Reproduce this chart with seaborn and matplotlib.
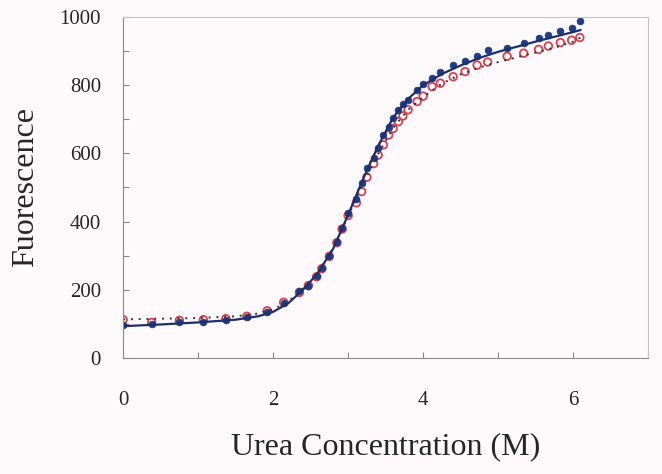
import numpy as np
import pandas as pd
import seaborn as sns
import matplotlib.pyplot as plt
from matplotlib.ticker import MultipleLocator

# urea titration
urea = [0, 0.38, 0.75, 1.07, 1.37, 1.65, 1.92, 2.14, 2.35, 2.47, 2.58, 2.65, 2.75, 2.85,
        2.92, 3.0, 3.11, 3.18, 3.25, 3.34, 3.4, 3.47, 3.54, 3.6, 3.67, 3.73, 3.8, 3.92,
        4.0, 4.12, 4.23, 4.4, 4.56, 4.72, 4.86, 5.12, 5.34, 5.54, 5.67, 5.83, 5.98, 6.09]
fl_blue = [97, 100, 104, 106, 112, 120, 135, 160, 195, 212, 240, 265, 300, 340,
           380, 424, 465, 512, 556, 586, 615, 654, 678, 705, 728, 745, 757, 786,
           805, 822, 840, 859, 872, 886, 903, 910, 924, 938, 947, 958, 968, 988]
fl_red = [112, 104, 110, 112, 115, 122, 138, 163, 192, 212, 238, 262, 298, 338,
          378, 418, 455, 488, 530, 570, 595, 625, 654, 673, 693, 710, 728, 752,
          768, 796, 806, 825, 840, 859, 868, 885, 894, 905, 915, 925, 932, 940]

# fitted curves
fit_x = [0, 0.5, 1.0, 1.5, 1.8, 2.0, 2.2, 2.4, 2.6, 2.8, 3.0, 3.2, 3.4, 3.6, 3.8,
         4.0, 4.25, 4.5, 4.75, 5.0, 5.25, 5.5, 5.75, 6.0, 6.1]
fit_blue = [93, 98, 104, 112, 122, 135, 160, 200, 250, 320, 420, 525, 622, 705, 760,
            800, 833, 858, 880, 898, 913, 928, 942, 956, 962]
fit_red = [113, 115, 117, 122, 130, 142, 165, 203, 252, 322, 415, 512, 598, 675, 728,
           765, 805, 832, 852, 868, 882, 896, 910, 928, 940]

pts = pd.DataFrame({'urea': urea, 'blue': fl_blue, 'red': fl_red})
fit = pd.DataFrame({'urea': fit_x, 'blue': fit_blue, 'red': fit_red})

sns.set_style('ticks')
plt.rcParams['font.family'] = ['Liberation Serif', 'DejaVu Serif']
bg = '#fefafc'

fig = plt.figure(figsize=(6.62, 4.74), dpi=100, facecolor=bg)
ax = fig.add_axes([0.186, 0.245, 0.793, 0.719])
ax.set_facecolor(bg)

sns.lineplot(data=fit, x='urea', y='red', ax=ax, color='#333333', linestyle=(0, (1, 3)),
             linewidth=1.4)
sns.lineplot(data=fit, x='urea', y='blue', ax=ax, color='#1c2f6e', linewidth=1.6)
sns.scatterplot(data=pts, x='urea', y='red', ax=ax, marker='o', s=30,
                facecolor='none', edgecolor='#d8404c', linewidth=1.3)
sns.scatterplot(data=pts, x='urea', y='blue', ax=ax, marker='o', s=24,
                color='#1f3c84', edgecolor='#1f3c84', linewidth=0.5)

ax.set_xlim(0, 7)
ax.set_ylim(0, 1000)
ax.xaxis.set_major_locator(MultipleLocator(2))
ax.xaxis.set_minor_locator(MultipleLocator(1))
ax.yaxis.set_major_locator(MultipleLocator(200))
ax.yaxis.set_minor_locator(MultipleLocator(100))
ax.tick_params(which='both', direction='in', color='#888888', length=4, width=0.8)
ax.tick_params(axis='x', which='major', pad=24, labelsize=15)
ax.tick_params(axis='y', which='major', pad=16, labelsize=15)

for s in ['left', 'bottom']:
    ax.spines[s].set_color('#8a8a8a')
for s in ['top', 'right']:
    ax.spines[s].set_color('#c4c4c4')

ax.set_xlabel('Urea Concentration (M)', fontsize=23, labelpad=16)
ax.set_ylabel('Fuorescence', fontsize=23, labelpad=14)

plt.savefig('out.png', facecolor=bg)
